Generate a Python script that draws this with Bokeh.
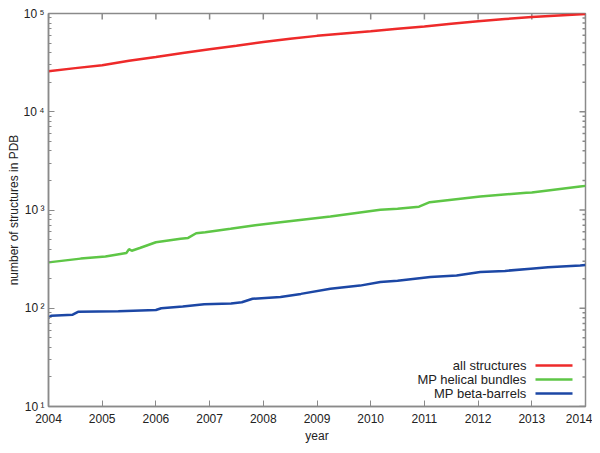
import math
from bokeh.plotting import figure
from bokeh.models import FixedTicker, LogTicker, Range1d, Label, Arrow
from bokeh.embed import file_html
from bokeh.resources import INLINE

# ---- data ----
year_ticks = [2004, 2005, 2006, 2007, 2008, 2009, 2010, 2011, 2012, 2013, 2014]
y_ticks = [10, 100, 1000, 10000, 100000]
y_tick_labels = ["10\u2009\u00b9", "10\u2009\u00b2", "10\u2009\u00b3", "10\u2009\u2074", "10\u2009\u2075"]

all_years = [2004.0, 2004.5, 2005.0, 2005.5, 2006.0, 2006.5, 2007.0, 2007.5, 2008.0,
             2008.5, 2009.0, 2009.5, 2010.0, 2010.5, 2011.0, 2011.5, 2012.0, 2012.5,
             2013.0, 2013.5, 2014.0]
all_counts = [25900, 27800, 29800, 33000, 36100, 39600, 43300, 47000, 51400,
              55300, 59200, 62500, 65900, 70000, 73800, 78500, 83400, 87800,
              92100, 95500, 99000]

helix_years = [2004.0, 2004.6, 2005.06, 2005.45, 2005.5, 2005.55, 2005.7, 2006.0,
               2006.46, 2006.6, 2006.75, 2006.92, 2007.39, 2007.85, 2008.32, 2009.25,
               2010.18, 2010.5, 2010.9, 2011.1, 2012.04, 2012.9, 2013.0, 2013.9, 2014.0]
helix_counts = [293, 320, 337, 365, 400, 385, 410, 470,
                510, 520, 580, 595, 645, 700, 750, 860,
                1005, 1030, 1080, 1200, 1371, 1500, 1510, 1733, 1760]

barrel_years = [2004.0, 2004.05, 2004.45, 2004.55, 2005.3, 2006.0, 2006.1, 2006.5,
                2006.9, 2007.4, 2007.6, 2007.8, 2008.32, 2008.7, 2009.25, 2009.8,
                2010.18, 2010.5, 2011.11, 2011.6, 2012.04, 2012.5, 2012.98, 2013.3,
                2013.9, 2014.0]
barrel_counts = [80, 84, 86, 92, 93, 96, 100, 104,
                 110, 112, 115, 125, 130, 140, 158, 170,
                 185, 190, 208, 215, 234, 240, 253, 262,
                 273, 275]

series_names = ["all structures", "MP helical bundles", "MP beta-barrels"]
series_colors = ["#ee2a2a", "#5ec646", "#1c47a5"]

# ---- figure ----
FONT = "Liberation Sans"
AX_COLOR = "#8a8a8a"
X0, X1 = year_ticks[0], year_ticks[-1]
Y0, Y1 = y_ticks[0], y_ticks[-1]

p = figure(width=592, height=445, x_range=Range1d(X0, X1),
           y_range=Range1d(Y0, Y1), y_axis_type="log",
           output_backend="svg", toolbar_location=None,
           min_border_left=48, min_border_right=7, min_border_top=13,
           min_border_bottom=38)
p.xgrid.visible = False
p.ygrid.visible = False
p.outline_line_color = AX_COLOR
p.outline_line_width = 1.5
p.background_fill_color = "white"
p.border_fill_color = "white"


def style(ax, minor=True):
    ax.axis_line_color = AX_COLOR
    ax.axis_line_width = 1.5
    ax.major_tick_line_color = AX_COLOR
    ax.minor_tick_line_color = AX_COLOR
    ax.major_tick_in = 6
    ax.major_tick_out = 0
    ax.minor_tick_in = 3 if minor else 0
    ax.minor_tick_out = 0
    ax.major_label_text_font = FONT
    ax.major_label_text_font_size = "12px"
    ax.major_label_text_color = "#222222"
    ax.axis_label_text_font = FONT
    ax.axis_label_text_font_size = "12px"
    ax.axis_label_text_font_style = "normal"
    ax.axis_label_text_color = "#222222"


xa = p.xaxis[0]
xa.ticker = FixedTicker(ticks=year_ticks)
style(xa, minor=False)
xa.axis_label = "year"
xa.major_label_standoff = 7
xa.axis_label_standoff = 3

ya = p.yaxis[0]
ya.ticker = LogTicker(num_minor_ticks=10)
style(ya)
ya.axis_label = "number of structures in PDB"
ya.major_label_overrides = {t: s for t, s in zip(y_ticks, y_tick_labels)}
ya.major_label_standoff = 4
ya.axis_label_standoff = 0

# inward ticks on the top and right edges of the box
p.ray(x=year_ticks, y=[Y1] * len(year_ticks), length=6, length_units="screen",
      angle=-math.pi / 2, line_color=AX_COLOR, line_width=1.5)
p.ray(x=[X1] * len(y_ticks), y=y_ticks, length=6, length_units="screen",
      angle=math.pi, line_color=AX_COLOR, line_width=1.5)
minor_y = [k * t for t in y_ticks[:-1] for k in range(2, 10)]
p.ray(x=[X1] * len(minor_y), y=minor_y, length=3, length_units="screen",
      angle=math.pi, line_color=AX_COLOR, line_width=1.5)

for xs, ys, c in [(all_years, all_counts, series_colors[0]),
                  (helix_years, helix_counts, series_colors[1]),
                  (barrel_years, barrel_counts, series_colors[2])]:
    p.line(xs, ys, line_color=c, line_width=2.5)

# ---- legend (text right-aligned, sample line to the right) ----
rows_y = [41, 27, 13]
for name, c, yy in zip(series_names, series_colors, rows_y):
    p.add_layout(Label(x=478, y=yy, x_units="screen", y_units="screen", text=name,
                       text_align="right", text_baseline="middle",
                       text_font=FONT, text_font_size="13px", text_color="#222222"))
    p.add_layout(Arrow(x_start=487, y_start=yy, x_end=524, y_end=yy,
                       start_units="screen", end_units="screen", end=None,
                       line_color=c, line_width=2.5))

open("out.html", "w").write(file_html(p, INLINE))
